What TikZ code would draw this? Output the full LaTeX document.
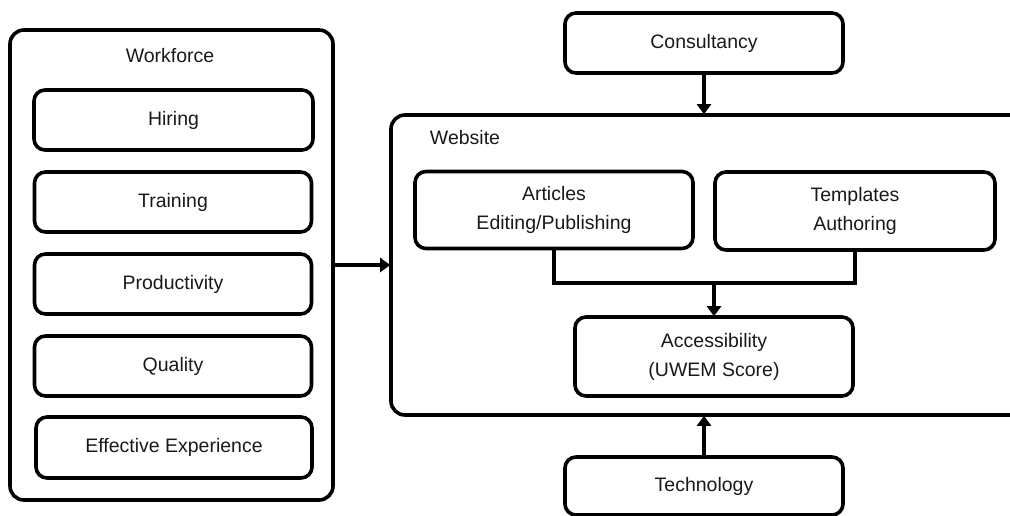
\documentclass[tikz,border=0pt]{standalone}
\usepackage{fontspec}
\setmainfont{Liberation Sans}
\usetikzlibrary{arrows.meta}
\begin{document}
\begin{tikzpicture}[x=1pt,y=-1pt,
  every node/.style={font=\fontsize{19.5}{29}\selectfont, text=black!90},
  frame/.style={draw, line width=3.6pt, rounded corners=14pt, inner sep=0pt},
  item/.style={draw, line width=3.6pt, rounded corners=11pt, align=center, inner sep=0pt},
  link/.style={line width=3.6pt},
  flow/.style={line width=3.6pt, -{Triangle[length=10pt,width=14pt]}, shorten >=-1pt}]
\useasboundingbox (0,0) rectangle (1010,515);
\clip (0,0) rectangle (1010,515);

% left group
\node[frame, minimum width=323pt, minimum height=470pt] (workforce) at (171.5,265) {};
\node (wlabel) at (170,56) {Workforce};
\node[item, minimum width=279pt, minimum height=60pt] (hiring) at (173.5,120) {Hiring};
\node[item, minimum width=277pt, minimum height=60pt] (training) at (173,202) {Training};
\node[item, minimum width=277pt, minimum height=60pt] (productivity) at (173,284) {Productivity};
\node[item, minimum width=277pt, minimum height=60pt] (quality) at (173,366) {Quality};
\node[item, minimum width=276pt, minimum height=61pt] (experience) at (174,447.5) {Effective Experience};

% website group, running off the right edge
\node[frame, minimum width=640pt, minimum height=300pt] (website) at (711,265) {};
\node (slabel) at (465,138) {Website};
\node[item, minimum width=278pt, minimum height=77pt] (articles) at (554,210) {Articles\\Editing/Publishing};
\node[item, minimum width=280pt, minimum height=78pt] (templates) at (855,211) {Templates\\Authoring};
\node[item, minimum width=278pt, minimum height=79pt] (access) at (714,356.5) {Accessibility\\(UWEM Score)};

% outer influences
\node[item, minimum width=278pt, minimum height=60pt] (consult) at (704,43) {Consultancy};
\node[item, minimum width=278pt, minimum height=58pt] (tech) at (704,486) {Technology};

% connectors
\coordinate (join) at (714,283);
\draw[link] (articles.south) |- (join) -| (templates.south);
\draw[flow] (join) -- (access.north);
\draw[flow] (workforce.east |- 0,265) -- (website.west |- 0,265);
\draw[flow] (consult.south) -- (consult.south |- website.north);
\draw[flow] (tech.north) -- (tech.north |- website.south);
\end{tikzpicture}
\end{document}
